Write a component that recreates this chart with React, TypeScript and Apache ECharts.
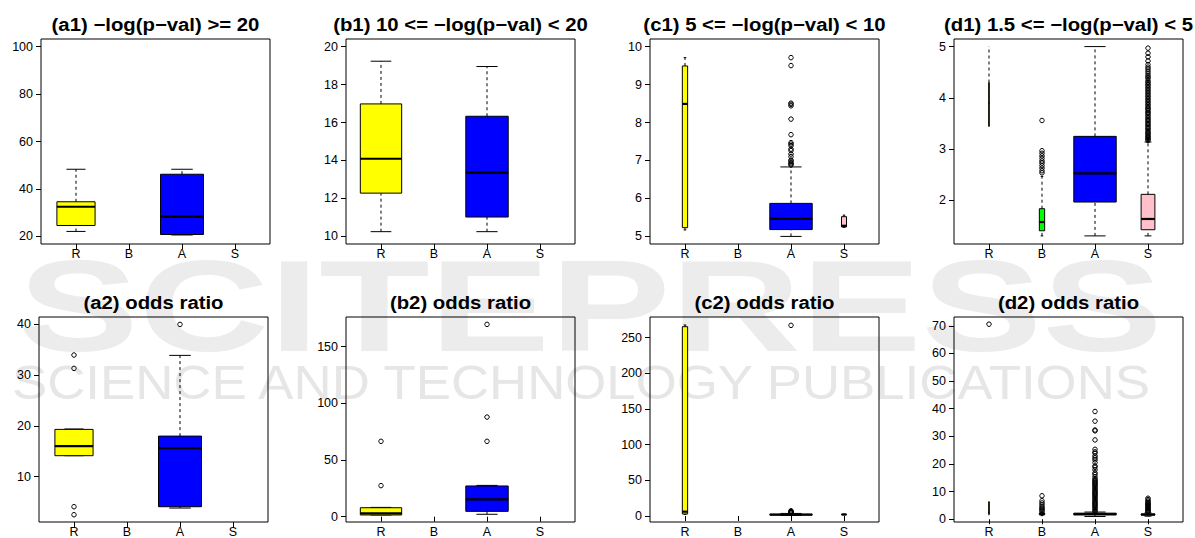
import React, { useEffect, useRef } from 'react';
import * as echarts from 'echarts';

const FONT = '"Liberation Sans", Arial, Helvetica, sans-serif';

// ---------------- data ----------------
const CATS = ['R', 'B', 'A', 'S'];
const CAT_COLORS = ['#ffff00', '#00ff00', '#0000ff', '#ffc0cb'];

// five-number boxes per category: [lowWhisker, Q1, median, Q3, highWhisker]
const a1Box = [[22.1, 24.6, 32.5, 34.6, 48.3], null, [20.6, 20.8, 28.3, 46.2, 48.3], null];
const a1Out = [[], [], [], []];
const a1Ticks = [20, 40, 60, 80, 100];

const b1Box = [[10.25, 12.28, 14.09, 16.98, 19.23], null, [10.25, 11.02, 13.36, 16.33, 18.95], null];
const b1Out = [[], [], [], []];
const b1Ticks = [10, 12, 14, 16, 18, 20];

const c1Box = [[5.17, 5.23, 8.49, 9.49, 9.71], null, [5.0, 5.18, 5.46, 5.87, 6.83], [5.24, 5.25, 5.28, 5.52, 5.56]];
const c1Out = [
  [],
  [],
  [6.88, 6.91, 6.94, 6.98, 7.01, 7.1, 7.17, 7.26, 7.3, 7.39, 7.43, 7.47, 7.68, 8.09, 8.44, 8.48, 8.51, 9.5, 9.71],
  [],
];
const c1Ticks = [5, 6, 7, 8, 9, 10];

const d1Box = [[3.44, 3.45, 3.9, 4.3, 5.0], [1.31, 1.41, 1.58, 1.84, 2.47], [1.31, 1.97, 2.53, 3.25, 5.0], [1.31, 1.43, 1.64, 2.12, 3.14]];
const d1Out = [
  [],
  [2.54, 2.58, 2.63, 2.68, 2.73, 2.77, 2.82, 2.87, 2.92, 2.97, 3.56],
  [],
  [3.17, 3.19, 3.21, 3.23, 3.25, 3.27, 3.3, 3.32, 3.34, 3.37, 3.4, 3.42, 3.45, 3.48, 3.5, 3.53, 3.56, 3.58, 3.61, 3.64,
   3.67, 3.7, 3.72, 3.75, 3.78, 3.8, 3.83, 3.86, 3.89, 3.92, 3.95, 3.98, 4.01, 4.04, 4.07, 4.1, 4.13, 4.16, 4.19, 4.22,
   4.25, 4.28, 4.31, 4.34, 4.38, 4.41, 4.44, 4.48, 4.52, 4.56, 4.6, 4.65, 4.72, 4.8, 4.87, 4.97],
];
const d1Ticks = [2, 3, 4, 5];

const a2Box = [[14.14, 14.14, 16.04, 19.32, 19.4], null, [3.83, 4.09, 15.65, 18.0, 33.9], null];
const a2Out = [[2.51, 4.09, 31.34, 33.97], [], [40.0], []];
const a2Ticks = [10, 20, 30, 40];

const b2Box = [[1.5, 1.5, 2.9, 7.9, 8.2], null, [2.1, 4.7, 15.3, 27.1, 27.6], null];
const b2Out = [[27.4, 66.5], [], [66.5, 87.9, 169.7], []];
const b2Ticks = [0, 50, 100, 150];

const c2Box = [[2.3, 2.8, 6.1, 265.4, 267.8], null, [0.9, 1.5, 2.0, 2.4, 3.6], [1.8, 2.0, 2.1, 2.3, 2.6]];
const c2Out = [[], [], [3.9, 4.4, 4.9, 5.4, 6.0, 6.6, 7.3, 267.3], []];
const c2Ticks = [0, 50, 100, 150, 200, 250];

const d2Box = [[1.5, 1.8, 2.5, 6.3, 6.4], [1.3, 1.6, 1.9, 2.3, 2.6], [1.0, 1.6, 1.8, 2.2, 2.6], [1.1, 1.5, 1.7, 1.9, 2.3]];
const d2Out = [
  [70.6],
  [2.8, 3.2, 3.6, 4.0, 4.5, 5.2, 5.9, 6.7, 8.5],
  [2.7, 3.1, 3.5, 3.9, 4.3, 4.7, 5.1, 5.5, 5.9, 6.3, 6.7, 7.1, 7.5, 7.9, 8.3, 8.7, 9.1, 9.5, 9.9, 10.3, 10.7, 11.1,
   11.5, 11.9, 12.3, 12.7, 13.1, 13.5, 13.9, 14.3, 14.7, 15.4, 16.2, 16.8, 17.9, 18.8, 19.3, 20.5, 21.5, 22.2, 22.9,
   23.9, 24.4, 25.3, 28.7, 32.0, 32.3, 35.5, 39.0],
  [2.5, 2.8, 3.1, 3.4, 3.7, 4.0, 4.3, 4.6, 4.9, 5.2, 5.5, 5.8, 6.1, 6.6, 7.1, 7.6],
];
const d2Ticks = [0, 10, 20, 30, 40, 50, 60, 70];

// ---------------- layout (sizes / positions) ----------------
const BOX_W_a = [0.72, 0, 0.81, 0];
const BOX_W_b = [0.78, 0, 0.8, 0];
const BOX_W_c = [0.1, 0, 0.8, 0.095];
const BOX_W_d = [0.012, 0.1, 0.8, 0.26];

const PANELS = [
  { title: '(a1) \u2212log(p\u2212val) >= 20', box: a1Box, out: a1Out, ticks: a1Ticks, w: BOX_W_a, yMin: 16.8, yMax: 103.2, left: 41, top: 39 },
  { title: '(b1) 10 <= \u2212log(p\u2212val) < 20', box: b1Box, out: b1Out, ticks: b1Ticks, w: BOX_W_b, yMin: 9.6, yMax: 20.4, left: 346, top: 39 },
  { title: '(c1) 5 <= \u2212log(p\u2212val) < 10', box: c1Box, out: c1Out, ticks: c1Ticks, w: BOX_W_c, yMin: 4.8, yMax: 10.2, left: 650, top: 39 },
  { title: '(d1) 1.5 <= \u2212log(p\u2212val) < 5', box: d1Box, out: d1Out, ticks: d1Ticks, w: BOX_W_d, yMin: 1.152, yMax: 5.148, left: 954, top: 39 },
  { title: '(a2) odds ratio', box: a2Box, out: a2Out, ticks: a2Ticks, w: BOX_W_a, yMin: 1.08, yMax: 41.46, left: 39, top: 317 },
  { title: '(b2) odds ratio', box: b2Box, out: b2Out, ticks: b2Ticks, w: BOX_W_b, yMin: -4.7, yMax: 176.2, left: 346, top: 317 },
  { title: '(c2) odds ratio', box: c2Box, out: c2Out, ticks: c2Ticks, w: BOX_W_c, yMin: -8.4, yMax: 279, left: 650, top: 317 },
  { title: '(d2) odds ratio', box: d2Box, out: d2Out, ticks: d2Ticks, w: BOX_W_d, yMin: -1.0, yMax: 73.2, left: 954, top: 317 },
];
const GRID_W = 229;
const GRID_H = 205;

function renderBox(params: any, api: any) {
  const x = api.value(0);
  const lo = api.value(1);
  const q1 = api.value(2);
  const med = api.value(3);
  const q3 = api.value(4);
  const hi = api.value(5);
  const w = api.value(6);
  const color = api.visual('color');
  const pLo = api.coord([x, lo]);
  const pQ1 = api.coord([x, q1]);
  const pMed = api.coord([x, med]);
  const pQ3 = api.coord([x, q3]);
  const pHi = api.coord([x, hi]);
  const cx = pLo[0];
  const half = api.size([w, 0])[0] / 2;
  const cap = half / 2;
  const thin = { stroke: '#000', lineWidth: 1 };
  const dash = { stroke: '#000', lineWidth: 1, lineDash: [3, 3] };
  return {
    type: 'group',
    children: [
      { type: 'line', shape: { x1: cx, y1: pQ3[1], x2: cx, y2: pHi[1] }, style: dash },
      { type: 'line', shape: { x1: cx, y1: pLo[1], x2: cx, y2: pQ1[1] }, style: dash },
      { type: 'line', shape: { x1: cx - cap, y1: pHi[1], x2: cx + cap, y2: pHi[1] }, style: thin },
      { type: 'line', shape: { x1: cx - cap, y1: pLo[1], x2: cx + cap, y2: pLo[1] }, style: thin },
      {
        type: 'rect',
        shape: { x: cx - half, y: pQ3[1], width: half * 2, height: pQ1[1] - pQ3[1] },
        style: { fill: color, stroke: '#000', lineWidth: 1 },
      },
      { type: 'line', shape: { x1: cx - half, y1: pMed[1], x2: cx + half, y2: pMed[1] }, style: { stroke: '#000', lineWidth: 2.2 } },
    ],
  };
}

function buildOption() {
  const grid: any[] = [];
  const xAxis: any[] = [];
  const yAxis: any[] = [];
  const series: any[] = [];
  const graphic: any[] = [];

  // watermark
  graphic.push({
    type: 'text', x: 18, y: 306, scaleX: 1.39, z: -10, silent: true,
    style: { text: 'SCITEPRESS', font: `bold 130px ${FONT}`, fill: '#ececec', textAlign: 'left', textVerticalAlign: 'middle', align: 'left', verticalAlign: 'middle' },
  });
  graphic.push({
    type: 'text', x: 12, y: 382, scaleX: 1.1, z: -10, silent: true,
    style: { text: 'SCIENCE AND TECHNOLOGY PUBLICATIONS', font: `48px ${FONT}`, fill: '#e6e6e6', textAlign: 'left', textVerticalAlign: 'middle', align: 'left', verticalAlign: 'middle' },
  });

  PANELS.forEach((p, i) => {
    grid.push({
      left: p.left, top: p.top, width: GRID_W, height: GRID_H,
      show: true, borderColor: '#000', borderWidth: 1, backgroundColor: 'transparent',
      outerBoundsMode: 'none', containLabel: false,
    });
    xAxis.push({
      gridIndex: i, type: 'value', min: 0.34, max: 4.66,
      axisLine: { show: false }, splitLine: { show: false },
      axisTick: { show: true, customValues: [1, 2, 3, 4], length: 5, lineStyle: { color: '#000', width: 1 } },
      axisLabel: {
        customValues: [1, 2, 3, 4], formatter: (v: number) => CATS[Math.round(v) - 1] ?? '',
        color: '#000', fontSize: 12.5, fontFamily: FONT, margin: 3,
      },
    });
    yAxis.push({
      gridIndex: i, type: 'value', min: p.yMin, max: p.yMax,
      axisLine: { show: false }, splitLine: { show: false },
      axisTick: { show: true, customValues: p.ticks, length: 5, lineStyle: { color: '#000', width: 1 } },
      axisLabel: { customValues: p.ticks, color: '#000', fontSize: 12.5, fontFamily: FONT, margin: 8 },
    });

    const boxData: any[] = [];
    const outData: any[] = [];
    p.box.forEach((b, k) => {
      if (b) {
        boxData.push({ value: [k + 1, b[0], b[1], b[2], b[3], b[4], p.w[k]], itemStyle: { color: CAT_COLORS[k] } });
      }
      p.out[k].forEach((v) => outData.push([k + 1, v]));
    });
    series.push({
      type: 'custom', xAxisIndex: i, yAxisIndex: i, renderItem: renderBox, data: boxData,
      encode: { x: 0, y: [1, 2, 3, 4, 5] }, clip: false, silent: true, z: 3,
    });
    series.push({
      type: 'scatter', xAxisIndex: i, yAxisIndex: i, data: outData, symbol: 'circle', symbolSize: 4.5,
      itemStyle: { color: 'rgba(0,0,0,0)', borderColor: '#000', borderWidth: 1, opacity: 1 },
      silent: true, z: 4,
    });

    graphic.push({
      type: 'text', x: p.left + GRID_W / 2, y: p.top - 14, scaleX: 1.13, z: 10,
      style: {
        text: p.title, font: `bold 18px ${FONT}`, fill: '#000',
        textAlign: 'center', textVerticalAlign: 'middle', align: 'center', verticalAlign: 'middle',
      },
    });
  });

  return {
    animation: false,
    backgroundColor: '#ffffff',
    textStyle: { fontFamily: FONT },
    grid, xAxis, yAxis, series, graphic,
  };
}

export default function App() {
  const ref = useRef<HTMLDivElement>(null);
  useEffect(() => {
    if (!ref.current) return;
    const chart = echarts.init(ref.current, null, { renderer: 'svg' });
    chart.setOption(buildOption() as any);
    return () => chart.dispose();
  }, []);
  return <div ref={ref} style={{ position: 'absolute', left: 0, top: 0, width: 1195, height: 538 }} />;
}
